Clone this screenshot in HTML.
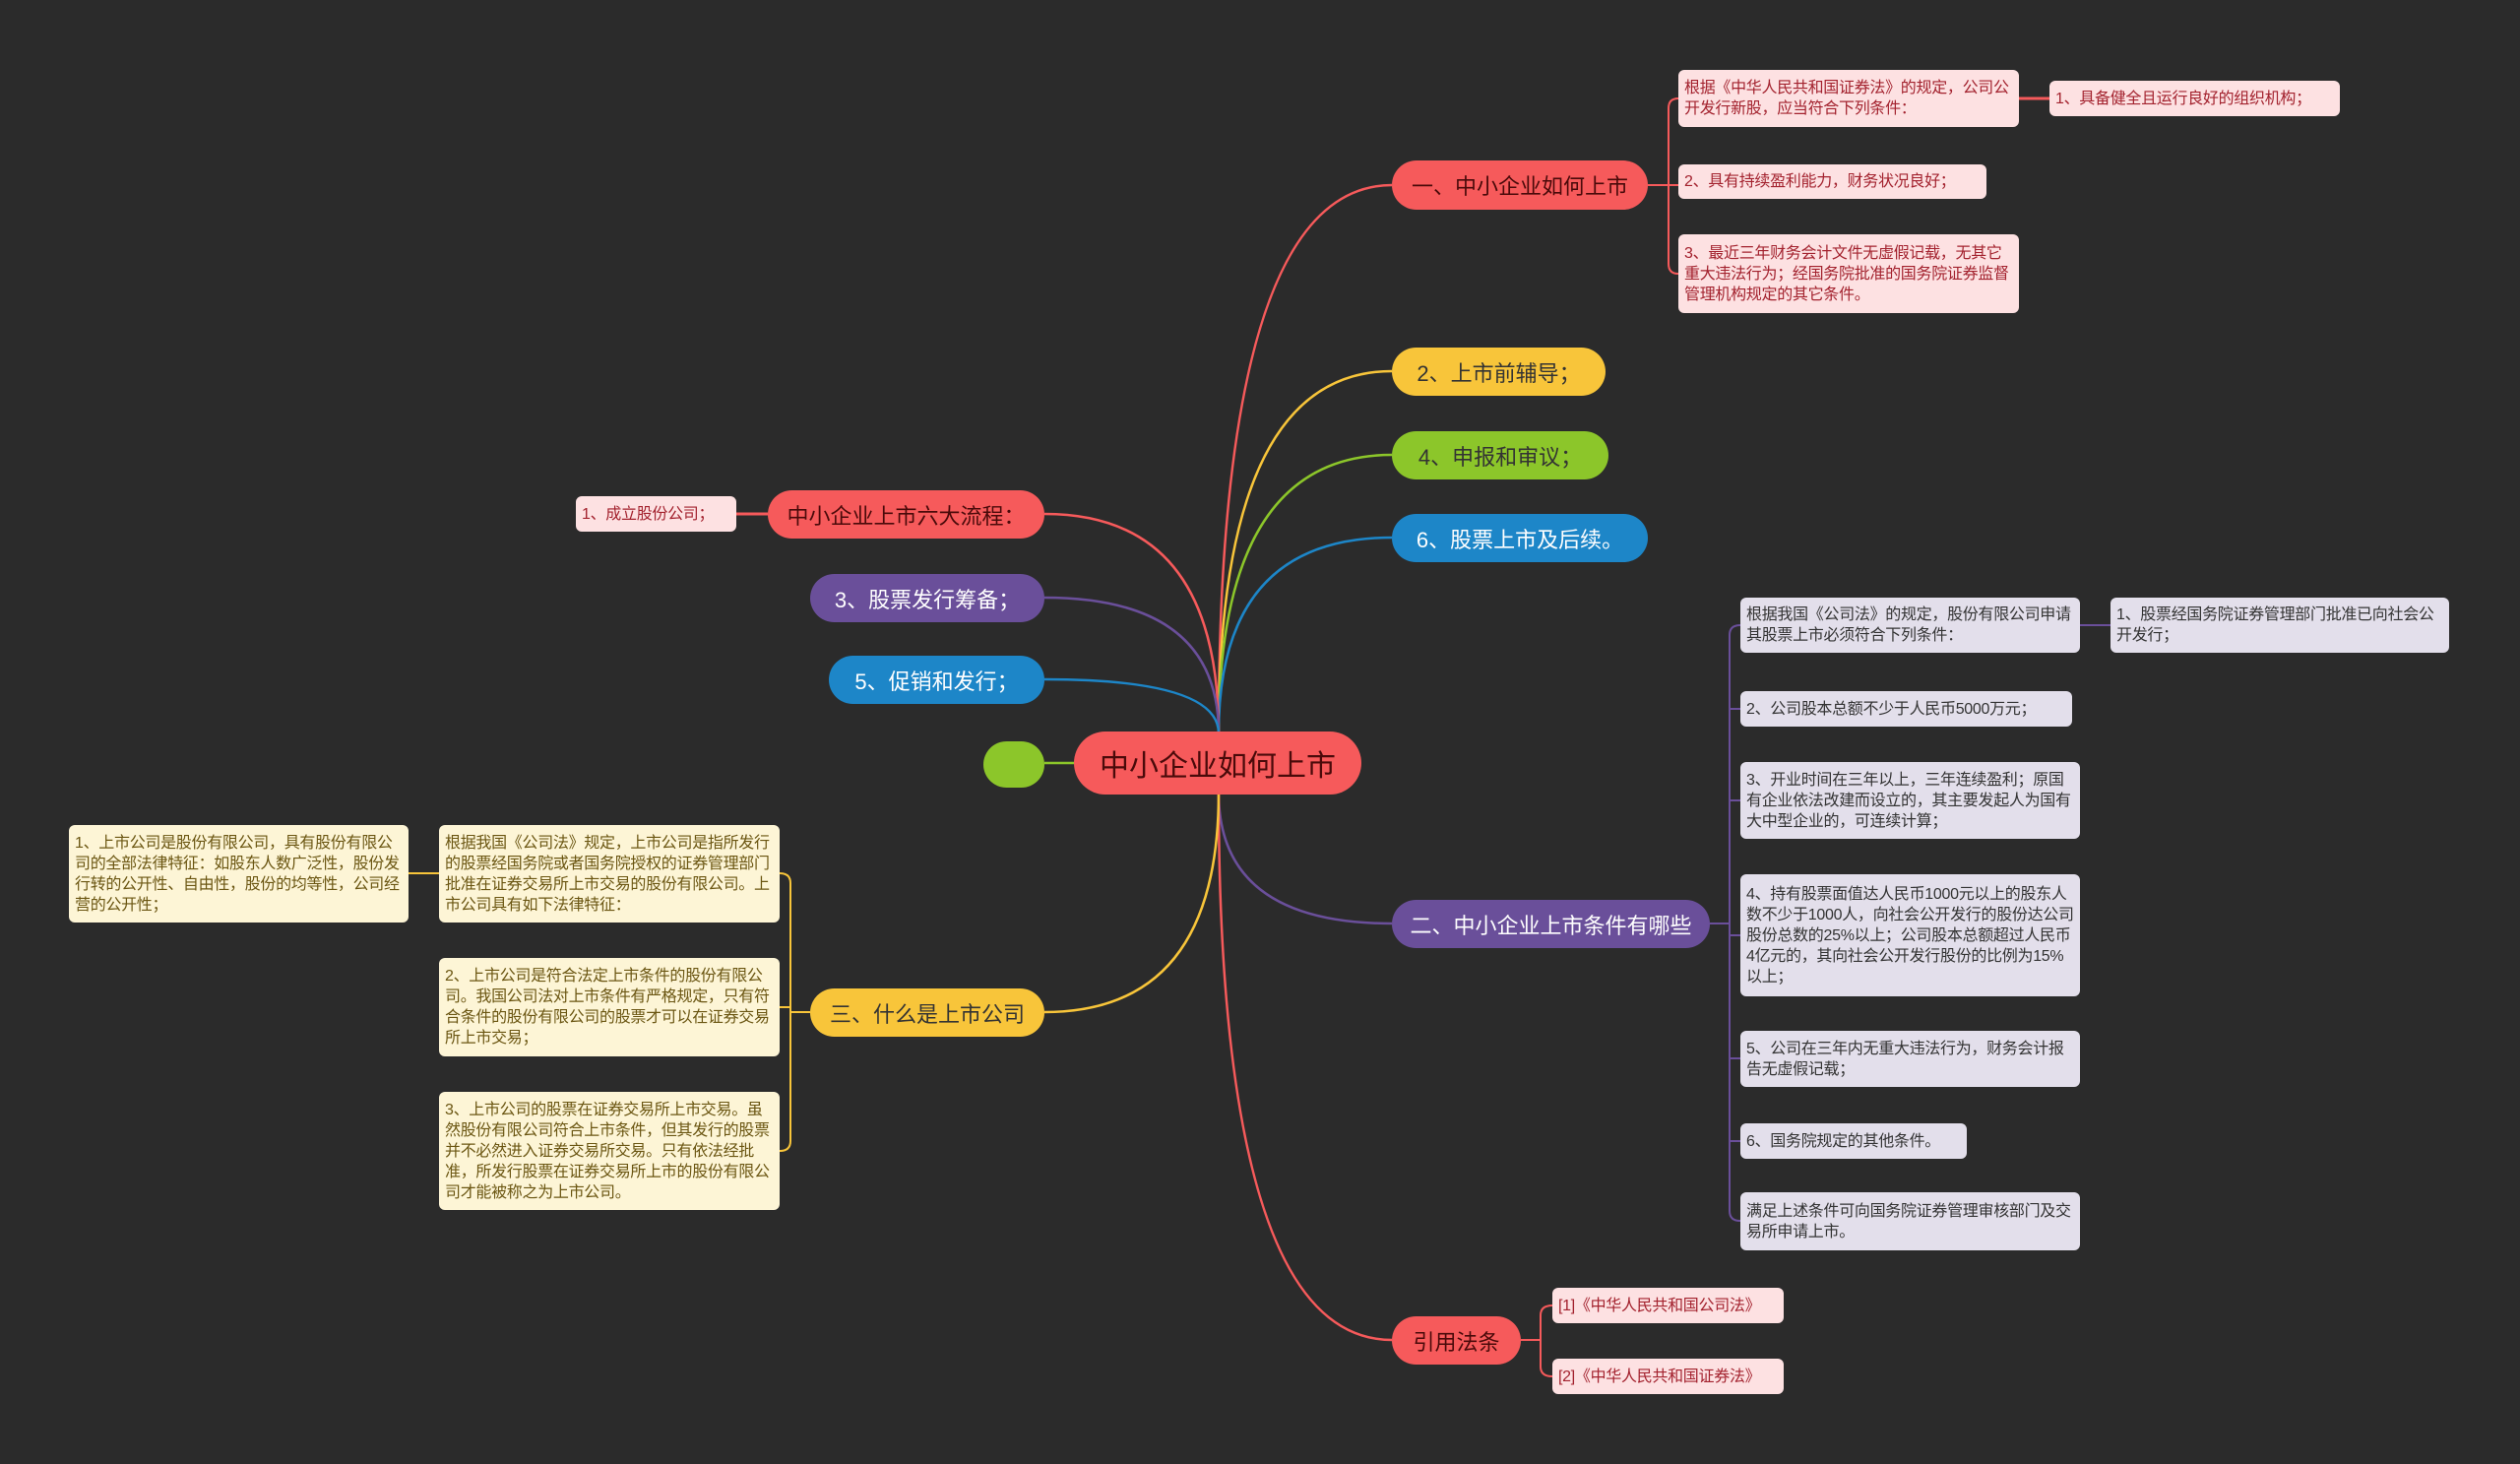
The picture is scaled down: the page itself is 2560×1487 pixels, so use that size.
<!DOCTYPE html>
<html><head><meta charset="utf-8">
<style>
body{margin:0;width:2560px;height:1487px;background:#2b2b2b;overflow:hidden;position:relative;font-family:"Liberation Sans","Noto Sans CJK SC",sans-serif;}
.b{position:absolute;box-sizing:border-box;border-radius:26px;display:flex;align-items:center;justify-content:center;font-size:22px;white-space:nowrap;}
.l{position:absolute;box-sizing:border-box;border-radius:6px;display:flex;align-items:center;padding:4px 6px;font-size:16px;line-height:21px;letter-spacing:-0.3px;}
.pk{background:#fde1e2;color:#a3222e;}
.pu{background:#e3dfeb;color:#333;}
.ye{background:#fdf5d6;color:#6b5612;}
svg{position:absolute;left:0;top:0;}
</style></head><body>
<svg width="2560" height="1487" fill="none" stroke-width="2.5">
<path d="M1238,745 Q1238,188 1414,188" stroke="#f65a5b"/>
<path d="M1238,745 Q1238,377 1414,377" stroke="#f8c53a"/>
<path d="M1238,745 Q1238,462 1414,462" stroke="#8cc62a"/>
<path d="M1238,745 Q1238,546 1414,546" stroke="#1d86c8"/>
<path d="M1238,805 Q1238,938 1414,938" stroke="#6a4f9a"/>
<path d="M1238,805 Q1238,1361 1414,1361" stroke="#f65a5b"/>
<path d="M1238,745 Q1238,522 1061,522" stroke="#f65a5b"/>
<path d="M1238,745 Q1238,607 1061,607" stroke="#6a4f9a"/>
<path d="M1238,745 Q1238,690 1061,690" stroke="#1d86c8"/>
<path d="M1238,805 Q1238,1028 1061,1028" stroke="#f8c53a"/>
<path d="M1091,775 H1061" stroke="#8cc62a"/>
<path d="M1674,188 H1695 M1695,188 V110 Q1695,100 1705,100 M1695,188 V184 M1695,188 H1705 M1695,188 V268 Q1695,278 1705,278" stroke="#f65a5b" stroke-width="2"/>
<path d="M2051,100 H2082" stroke="#f65a5b" stroke-width="3"/>
<path d="M1737,938 H1757 M1757,938 V645 Q1757,635 1768,635 M1757,720 Q1757,720 1768,720 M1757,813 H1768 M1757,950 H1768 M1757,1075 H1768 M1757,938 V1230 Q1757,1240 1768,1240 M1757,1159 H1768" stroke="#6a4f9a" stroke-width="2"/>
<path d="M2113,635 H2144" stroke="#6a4f9a" stroke-width="2"/>
<path d="M1545,1361 H1565 M1565,1361 V1336 Q1565,1326 1577,1326 M1565,1361 V1388 Q1565,1398 1577,1398" stroke="#f65a5b" stroke-width="2"/>
<path d="M780,522 H748" stroke="#f65a5b" stroke-width="3"/>
<path d="M823,1028 H803 M803,1028 V897 Q803,887 792,887 M803,1023 H792 M803,1028 V1159 Q803,1169 792,1169" stroke="#f8c53a" stroke-width="2"/>
<path d="M446,887 H415" stroke="#f8c53a" stroke-width="2"/>
</svg>

<div class="b" style="left:1091px;top:743px;width:292px;height:64px;background:#f65a5b;color:#4a0a0a;font-size:30px;border-radius:32px;">中小企业如何上市</div>
<div class="b" style="left:999px;top:753px;width:62px;height:47px;background:#8cc62a;"></div>

<div class="b" style="left:1414px;top:163px;width:260px;height:50px;background:#f65a5b;color:#4a0a0a;">一、中小企业如何上市</div>
<div class="b" style="left:1414px;top:353px;width:217px;height:49px;background:#f8c53a;color:#333;">2、上市前辅导；</div>
<div class="b" style="left:1414px;top:438px;width:220px;height:49px;background:#8cc62a;color:#333;">4、申报和审议；</div>
<div class="b" style="left:1414px;top:522px;width:260px;height:49px;background:#1d86c8;color:#fff;">6、股票上市及后续。</div>
<div class="b" style="left:1414px;top:914px;width:323px;height:49px;background:#6a4f9a;color:#fff;">二、中小企业上市条件有哪些</div>
<div class="b" style="left:1414px;top:1337px;width:131px;height:49px;background:#f65a5b;color:#4a0a0a;">引用法条</div>

<div class="b" style="left:780px;top:498px;width:281px;height:49px;background:#f65a5b;color:#4a0a0a;">中小企业上市六大流程：</div>
<div class="b" style="left:823px;top:583px;width:238px;height:49px;background:#6a4f9a;color:#fff;">3、股票发行筹备；</div>
<div class="b" style="left:842px;top:666px;width:219px;height:49px;background:#1d86c8;color:#fff;">5、促销和发行；</div>
<div class="b" style="left:823px;top:1004px;width:238px;height:49px;background:#f8c53a;color:#333;">三、什么是上市公司</div>

<div class="l pk" style="left:1705px;top:71px;width:346px;height:58px;">根据《中华人民共和国证券法》的规定，公司公开发行新股，应当符合下列条件：</div>
<div class="l pk" style="left:2082px;top:82px;width:295px;height:36px;">1、具备健全且运行良好的组织机构；</div>
<div class="l pk" style="left:1705px;top:167px;width:313px;height:35px;">2、具有持续盈利能力，财务状况良好；</div>
<div class="l pk" style="left:1705px;top:238px;width:346px;height:80px;">3、最近三年财务会计文件无虚假记载，无其它重大违法行为；经国务院批准的国务院证券监督管理机构规定的其它条件。</div>

<div class="l pu" style="left:1768px;top:607px;width:345px;height:56px;">根据我国《公司法》的规定，股份有限公司申请其股票上市必须符合下列条件：</div>
<div class="l pu" style="left:2144px;top:607px;width:344px;height:56px;">1、股票经国务院证券管理部门批准已向社会公开发行；</div>
<div class="l pu" style="left:1768px;top:702px;width:337px;height:36px;">2、公司股本总额不少于人民币5000万元；</div>
<div class="l pu" style="left:1768px;top:774px;width:345px;height:78px;">3、开业时间在三年以上，三年连续盈利；原国有企业依法改建而设立的，其主要发起人为国有大中型企业的，可连续计算；</div>
<div class="l pu" style="left:1768px;top:888px;width:345px;height:124px;">4、持有股票面值达人民币1000元以上的股东人数不少于1000人，向社会公开发行的股份达公司股份总数的25%以上；公司股本总额超过人民币4亿元的，其向社会公开发行股份的比例为15%以上；</div>
<div class="l pu" style="left:1768px;top:1047px;width:345px;height:57px;">5、公司在三年内无重大违法行为，财务会计报告无虚假记载；</div>
<div class="l pu" style="left:1768px;top:1141px;width:230px;height:36px;">6、国务院规定的其他条件。</div>
<div class="l pu" style="left:1768px;top:1211px;width:345px;height:59px;">满足上述条件可向国务院证券管理审核部门及交易所申请上市。</div>

<div class="l pk" style="left:1577px;top:1308px;width:235px;height:36px;">[1]《中华人民共和国公司法》</div>
<div class="l pk" style="left:1577px;top:1380px;width:235px;height:36px;">[2]《中华人民共和国证券法》</div>

<div class="l pk" style="left:585px;top:504px;width:163px;height:36px;">1、成立股份公司；</div>

<div class="l ye" style="left:446px;top:838px;width:346px;height:99px;">根据我国《公司法》规定，上市公司是指所发行的股票经国务院或者国务院授权的证券管理部门批准在证券交易所上市交易的股份有限公司。上市公司具有如下法律特征：</div>
<div class="l ye" style="left:70px;top:838px;width:345px;height:99px;">1、上市公司是股份有限公司，具有股份有限公司的全部法律特征：如股东人数广泛性，股份发行转的公开性、自由性，股份的均等性，公司经营的公开性；</div>
<div class="l ye" style="left:446px;top:973px;width:346px;height:100px;">2、上市公司是符合法定上市条件的股份有限公司。我国公司法对上市条件有严格规定，只有符合条件的股份有限公司的股票才可以在证券交易所上市交易；</div>
<div class="l ye" style="left:446px;top:1109px;width:346px;height:120px;">3、上市公司的股票在证券交易所上市交易。虽然股份有限公司符合上市条件，但其发行的股票并不必然进入证券交易所交易。只有依法经批准，所发行股票在证券交易所上市的股份有限公司才能被称之为上市公司。</div>
</body></html>
